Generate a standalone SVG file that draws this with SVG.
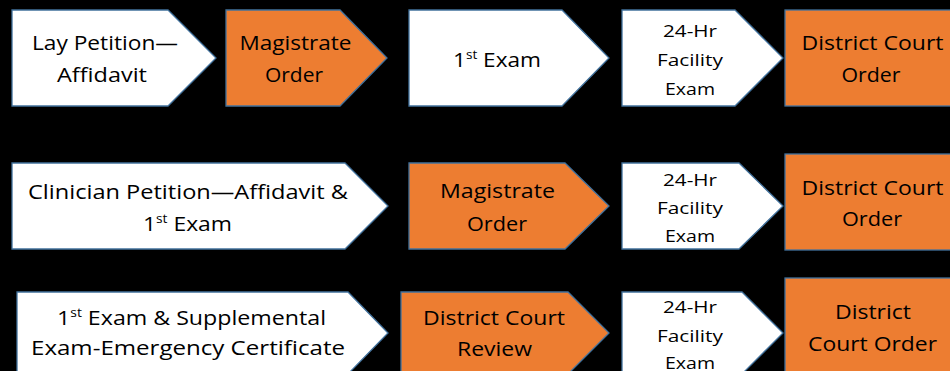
<svg xmlns="http://www.w3.org/2000/svg" width="950" height="371" viewBox="0 0 950 371">
<style>
.w{fill:#ffffff;stroke:#41719c;stroke-width:1.3}
.o{fill:#ed7d31;stroke:#41719c;stroke-width:1.3}
text{font-family:"Open Sans","Liberation Sans",sans-serif;fill:#000;text-anchor:middle}
.t{font-size:20px}
.s{font-size:16.5px}
.sup{font-size:12px}
</style>
<rect width="950" height="371" fill="#000"/>
<!-- Row 1 -->
<g id="lay-petition">
<polygon class="w" points="12,10 168,10 216,58 168,106 12,106"/>
<text class="t" x="105" y="50" textLength="146" lengthAdjust="spacingAndGlyphs">Lay Petition—</text>
<text class="t" x="102" y="82" textLength="90" lengthAdjust="spacingAndGlyphs">Affidavit</text>
</g>
<g id="magistrate-order-1">
<polygon class="o" points="226,10 340,10 387,58 340,106 226,106"/>
<text class="t" x="295.5" y="50" textLength="112" lengthAdjust="spacingAndGlyphs">Magistrate</text>
<text class="t" x="294" y="82" textLength="58" lengthAdjust="spacingAndGlyphs">Order</text>
</g>
<g id="first-exam-1">
<polygon class="w" points="409,10 562,10 609,58 562,106 409,106"/>
<text class="t" x="497" y="67" textLength="88" lengthAdjust="spacingAndGlyphs">1<tspan class="sup" dy="-8">st</tspan><tspan dy="8"> Exam</tspan></text>
</g>
<g id="facility-exam-1">
<polygon class="w" points="622,10 735,10 783,58 735,106 622,106"/>
<text class="s" x="690" y="37" textLength="54" lengthAdjust="spacingAndGlyphs">24-Hr</text>
<text class="s" x="690" y="66" textLength="66" lengthAdjust="spacingAndGlyphs">Facility</text>
<text class="s" x="690" y="95" textLength="50" lengthAdjust="spacingAndGlyphs">Exam</text>
</g>
<g id="district-court-order-1">
<rect class="o" x="785" y="10" width="170" height="96"/>
<text class="t" x="872.5" y="50" textLength="142" lengthAdjust="spacingAndGlyphs">District Court</text>
<text class="t" x="871" y="82" textLength="59" lengthAdjust="spacingAndGlyphs">Order</text>
</g>
<!-- Row 2 -->
<g id="clinician-petition">
<polygon class="w" points="12,163 345,163 388,206 345,249 12,249"/>
<text class="t" x="188" y="199" textLength="320" lengthAdjust="spacingAndGlyphs">Clinician Petition—Affidavit &amp;</text>
<text class="t" x="187.5" y="231" textLength="89" lengthAdjust="spacingAndGlyphs">1<tspan class="sup" dy="-8">st</tspan><tspan dy="8"> Exam</tspan></text>
</g>
<g id="magistrate-order-2">
<polygon class="o" points="409,163 565,163 609,206 565,249 409,249"/>
<text class="t" x="497.5" y="198" textLength="115" lengthAdjust="spacingAndGlyphs">Magistrate</text>
<text class="t" x="497" y="231" textLength="60" lengthAdjust="spacingAndGlyphs">Order</text>
</g>
<g id="facility-exam-2">
<polygon class="w" points="622,163 739,163 783,206 739,249 622,249"/>
<text class="s" x="690" y="186" textLength="54" lengthAdjust="spacingAndGlyphs">24-Hr</text>
<text class="s" x="690" y="214" textLength="66" lengthAdjust="spacingAndGlyphs">Facility</text>
<text class="s" x="690" y="242" textLength="50" lengthAdjust="spacingAndGlyphs">Exam</text>
</g>
<g id="district-court-order-2">
<rect class="o" x="785" y="154" width="170" height="96"/>
<text class="t" x="872.5" y="195" textLength="142" lengthAdjust="spacingAndGlyphs">District Court</text>
<text class="t" x="872" y="226" textLength="60" lengthAdjust="spacingAndGlyphs">Order</text>
</g>
<!-- Row 3 -->
<g id="emergency-certificate">
<polygon class="w" points="17,292 348,292 388,333 348,374 17,374"/>
<text class="t" x="191.5" y="325" textLength="269" lengthAdjust="spacingAndGlyphs">1<tspan class="sup" dy="-8">st</tspan><tspan dy="8"> Exam &amp; Supplemental</tspan></text>
<text class="t" x="188" y="355" textLength="314" lengthAdjust="spacingAndGlyphs">Exam-Emergency Certificate</text>
</g>
<g id="district-court-review">
<polygon class="o" points="401,292 568,292 609,333 568,374 401,374"/>
<text class="t" x="494" y="325" textLength="142" lengthAdjust="spacingAndGlyphs">District Court</text>
<text class="t" x="494.5" y="356" textLength="75" lengthAdjust="spacingAndGlyphs">Review</text>
</g>
<g id="facility-exam-3">
<polygon class="w" points="622,292 742,292 783,333 742,374 622,374"/>
<text class="s" x="690" y="313" textLength="54" lengthAdjust="spacingAndGlyphs">24-Hr</text>
<text class="s" x="690" y="342" textLength="66" lengthAdjust="spacingAndGlyphs">Facility</text>
<text class="s" x="690" y="369" textLength="50" lengthAdjust="spacingAndGlyphs">Exam</text>
</g>
<g id="district-court-order-3">
<rect class="o" x="785" y="278" width="170" height="100"/>
<text class="t" x="873" y="319" textLength="76" lengthAdjust="spacingAndGlyphs">District</text>
<text class="t" x="872.5" y="351" textLength="129" lengthAdjust="spacingAndGlyphs">Court Order</text>
</g>
</svg>
